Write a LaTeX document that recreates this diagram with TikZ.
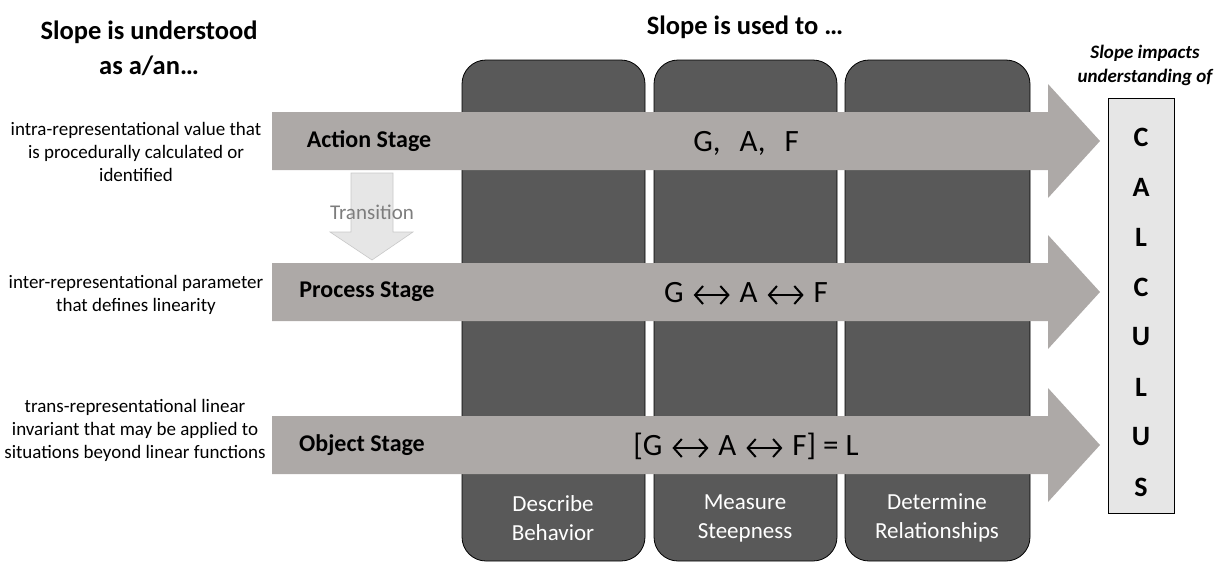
\documentclass[tikz,border=0pt]{standalone}
\usepackage{fontspec}
\usetikzlibrary{arrows.meta}
\setmainfont{Carlito}
\definecolor{colgray}{RGB}{89,89,89}
\definecolor{arrgray}{RGB}{173,169,167}
\definecolor{lightfill}{RGB}{230,230,230}
\definecolor{transline}{RGB}{200,200,200}
\definecolor{transtext}{RGB}{125,125,125}
\newcommand{\lra}{\hspace{9pt}\tikz[baseline=0pt]{\draw[line width=2pt,line join=miter,{Straight Barb[length=8pt,width=18pt]}-{Straight Barb[length=8pt,width=18pt]}] (0pt,7pt) -- (36pt,7pt);}\hspace{9pt}}
\begin{document}
\begin{tikzpicture}[x=1pt,y=-1pt,
  colbox/.style={fill=colgray,draw=black,line width=0.8pt,rounded corners=24pt},
  bigarrow/.style={fill=arrgray},
  title/.style={font=\fontsize{26.5}{35}\selectfont\bfseries,align=center,inner sep=0pt},
  desc/.style={font=\fontsize{19}{23}\selectfont,align=center,inner sep=0pt},
  stage/.style={font=\fontsize{24}{28}\selectfont\bfseries,inner sep=0pt},
  mid/.style={font=\fontsize{31}{35}\selectfont,inner sep=0pt},
  collabel/.style={font=\fontsize{23}{29}\selectfont,text=white,align=center,inner sep=0pt},
  letter/.style={font=\fontsize{28}{32}\selectfont\bfseries,inner sep=0pt}]
\useasboundingbox (0,0) rectangle (1228,563);
% columns
\draw[colbox] (462,60) rectangle (645,561);
\draw[colbox] (654,60) rectangle (837,561);
\draw[colbox] (845,60) rectangle (1030,561);
% big arrows
\foreach \c in {141,292,445}{
  \fill[bigarrow] (272,\c-29) -- (1048,\c-29) -- (1048,\c-57) -- (1100,\c) -- (1048,\c+57) -- (1048,\c+29) -- (272,\c+29) -- cycle;
}
% transition arrow
\draw[fill=lightfill,draw=transline,line width=0.6pt] (351,173) -- (393,173) -- (393,232) -- (413,232) -- (372,260) -- (330,232) -- (351,232) -- cycle;
\node[font=\fontsize{21}{25}\selectfont,text=transtext,inner sep=0pt] (trans) at (372,212) {Transition};
% titles
\node[title] (t1) at (149,48) {Slope is understood\\as a/an…};
\node[title] (t2) at (745,27) {Slope is used to …};
\node[font=\fontsize{19}{24}\selectfont\bfseries\itshape,align=center,inner sep=0pt] (t3) at (1145,65) {Slope impacts\\understanding of};
% descriptions
\node[desc] (d1) at (136,152) {intra-representational value that\\is procedurally calculated or\\identified};
\node[desc] (d2) at (136,295) {inter-representational parameter\\that defines linearity};
\node[desc] (d3) at (135,430) {trans-representational linear\\invariant that may be applied to\\situations beyond linear functions};
% stage labels
\node[stage] (s1) at (369,141) {Action Stage};
\node[stage] (s2) at (367,292) {Process Stage};
\node[stage] (s3) at (362,445) {Object Stage};
% middle texts
\node[mid,anchor=base] (m1) at (746,151) {G,\hspace{19pt}A,\hspace{19pt}F};
\node[mid,anchor=base] (m2) at (746,302) {G\lra A\lra F};
\node[mid,anchor=base] (m3) at (746,455) {[G\lra A\lra F] = L};
% column labels
\node[collabel] (c1) at (553,518) {Describe\\Behavior};
\node[collabel] (c2) at (745,518) {Measure\\Steepness};
\node[collabel] (c3) at (937,518) {Determine\\Relationships};
% calculus box
\draw[fill=lightfill,draw=black,line width=0.7pt] (1108,98) rectangle (1174,513);
\foreach \l/\y [count=\i] in {C/137,A/187,L/237,C/287,U/337,L/387,U/437,S/487}{
  \node[letter] (L\i) at (1141,\y) {\l};
}
\end{tikzpicture}
\end{document}
